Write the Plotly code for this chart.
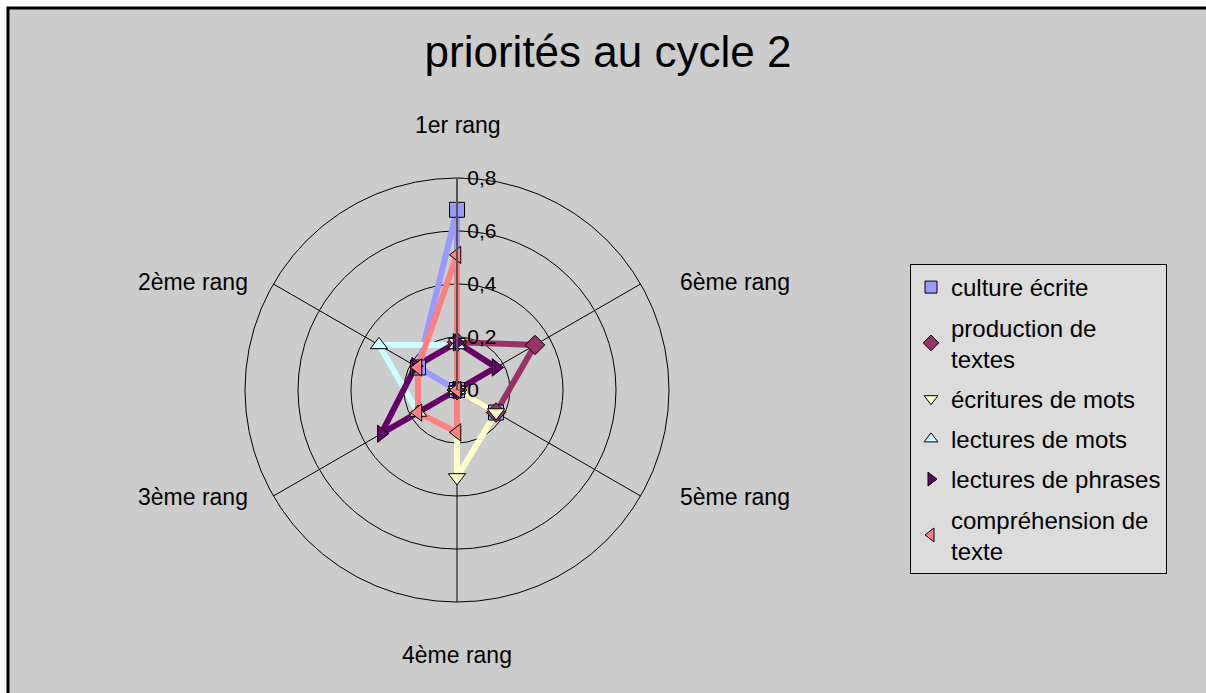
import plotly.graph_objects as go

categories = ["1er rang", "2ème rang", "3ème rang", "4ème rang", "5ème rang", "6ème rang"]

series_names = ["culture écrite", "production de<br>textes", "écritures de mots",
                "lectures de mots", "lectures de phrases", "compréhension de<br>texte"]

culture_ecrite = [0.68, 0.17, 0.0, 0.0, 0.17, 0.0]
production_textes = [0.18, 0.0, 0.0, 0.0, 0.17, 0.34]
ecritures_mots = [0.18, 0.0, 0.0, 0.33, 0.17, 0.0]
lectures_mots = [0.17, 0.34, 0.17, 0.0, 0.0, 0.0]
lectures_phrases = [0.18, 0.18, 0.33, 0.0, 0.0, 0.17]
comprehension_texte = [0.51, 0.17, 0.17, 0.16, 0.0, 0.0]

radial_ticks = [0, 0.2, 0.4, 0.6, 0.8]
radial_labels = ["0", "0,2", "0,4", "0,6", "0,8"]

values = [culture_ecrite, production_textes, ecritures_mots,
          lectures_mots, lectures_phrases, comprehension_texte]
colors = ["#9999FF", "#993366", "#FFFFCC", "#CCFFFF", "#660066", "#FF8080"]
symbols = ["square", "diamond", "triangle-down", "triangle-up", "triangle-right", "triangle-left"]

FONT = "Liberation Sans, Arial, sans-serif"

fig = go.Figure()
for name, vals, col, sym in zip(series_names, values, colors, symbols):
    r = list(vals) + [vals[0]]
    th = categories + [categories[0]]
    fig.add_trace(go.Scatterpolar(
        r=r, theta=th, mode="lines", showlegend=False, hoverinfo="skip",
        line=dict(color=col, width=6)))
for i, (name, vals, col, sym) in enumerate(zip(series_names, values, colors, symbols)):
    fig.add_trace(go.Scatterpolar(
        r=vals, theta=categories, mode="markers", name=name, showlegend=False,
        marker=dict(symbol=sym, size=15, color=col, line=dict(color="black", width=1))))
for i, (name, vals, col, sym) in enumerate(zip(series_names, values, colors, symbols)):
    fig.add_trace(go.Scatterpolar(
        r=[None], theta=[categories[0]], mode="markers", name=name, legendgroup=f"g{i}",
        marker=dict(symbol=sym, size=12, color=col, line=dict(color="black", width=1))))

W, H = 1206, 693
cx, cy, rad = 457, 390, 212

fig.update_layout(
    width=W, height=H,
    margin=dict(l=0, r=0, t=0, b=0),
    paper_bgcolor="white",
    font=dict(family=FONT, color="black"),
    title=dict(text="priorités au cycle 2", x=608 / W, xanchor="center",
               y=1 - 52 / H, yanchor="middle", font=dict(size=44, family=FONT, color="black")),
    polar=dict(
        domain=dict(x=[(cx - rad) / W, (cx + rad) / W],
                    y=[(H - cy - rad) / H, (H - cy + rad) / H]),
        bgcolor="rgba(0,0,0,0)",
        radialaxis=dict(range=[0, 0.8], tickvals=radial_ticks, ticktext=radial_labels,
                        angle=90, side="clockwise", tickangle=90,
                        showline=True, linecolor="#555555", linewidth=2,
                        gridcolor="black", gridwidth=1,
                        ticks="outside", ticklen=5, tickcolor="#555555",
                        tickfont=dict(size=21, family=FONT, color="black")),
        angularaxis=dict(categoryarray=categories, categoryorder="array",
                         rotation=90, direction="counterclockwise",
                         showline=True, linecolor="black", linewidth=1,
                         gridcolor="black", gridwidth=1,
                         showticklabels=False, ticks=""),
    ),
    legend=dict(x=910 / W, y=1 - 264 / H, xanchor="left", yanchor="top",
                bgcolor="#DCDCDC", bordercolor="black", borderwidth=1,
                font=dict(size=24, family=FONT, color="black"),
                tracegroupgap=6, itemwidth=30),
    shapes=[dict(type="rect", xref="paper", yref="paper",
                 x0=8 / W, x1=1.02, y0=-0.02, y1=1 - 8 / H,
                 fillcolor="#CCCCCC", line=dict(color="black", width=3), layer="below")],
)

label_pos = {"1er rang": (458, 125), "2ème rang": (193, 282), "3ème rang": (193, 497),
             "4ème rang": (457, 655), "5ème rang": (735, 497), "6ème rang": (735, 282)}
for cat in categories:
    px, py = label_pos[cat]
    fig.add_annotation(text=cat, x=px / W, y=1 - py / H, xref="paper", yref="paper",
                       showarrow=False, xanchor="center", yanchor="middle",
                       font=dict(size=23, family=FONT, color="black"))

fig.write_html("out.html", config={"displayModeBar": False},
               post_script="document.body.style.margin='0';document.body.style.overflow='hidden';")
